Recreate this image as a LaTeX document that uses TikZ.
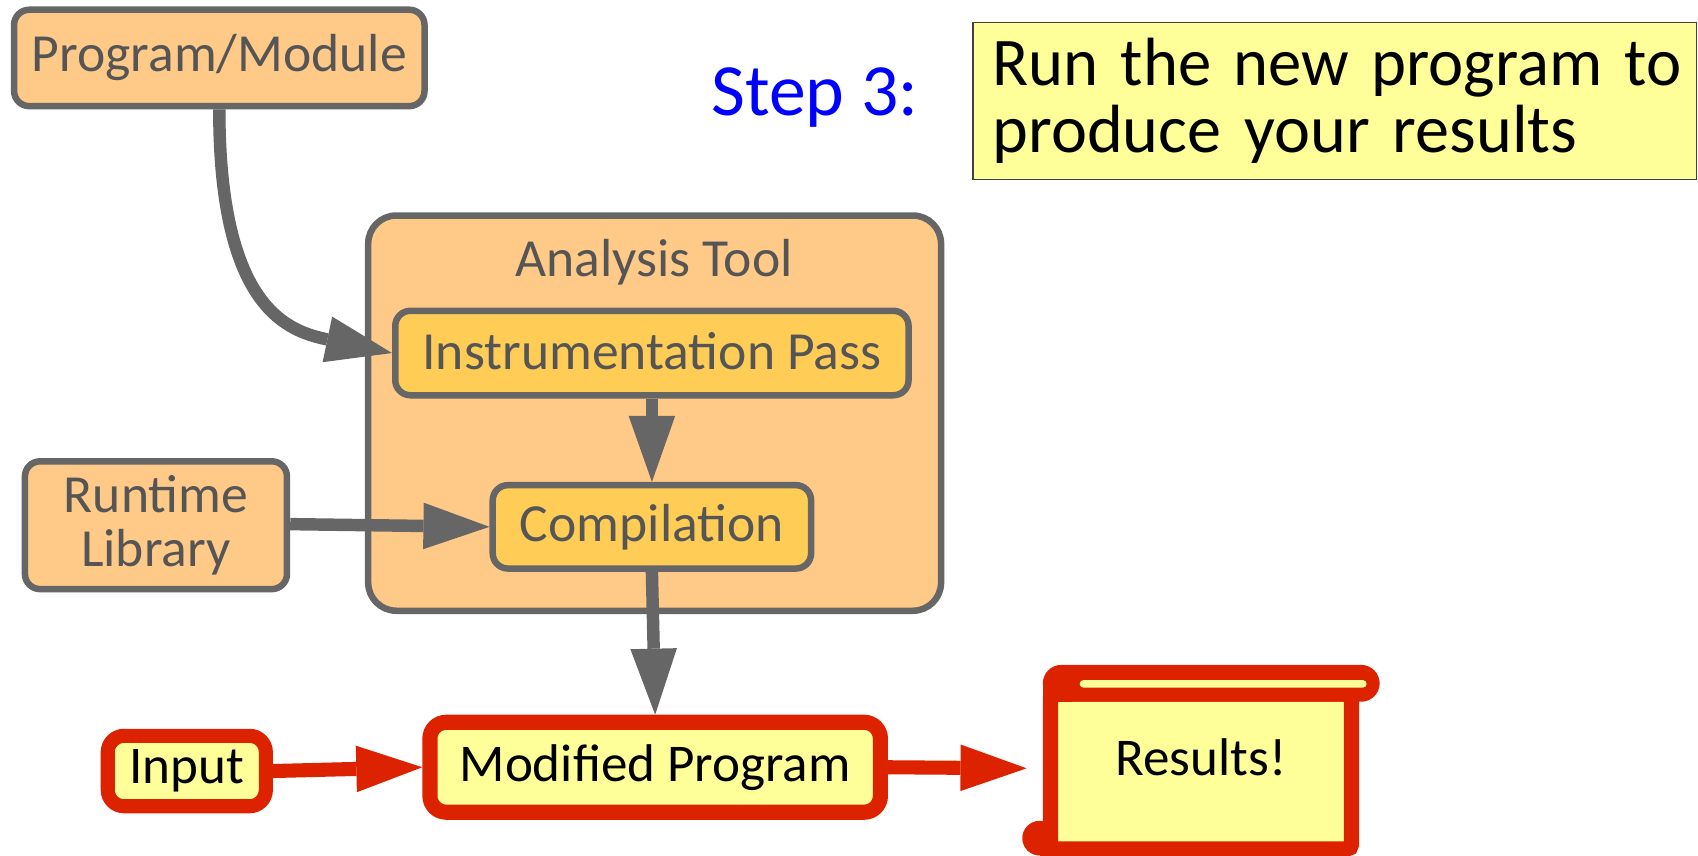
\documentclass[tikz,border=0pt]{standalone}
\usepackage{fontspec}
\setmainfont{Carlito}
\usetikzlibrary{arrows.meta}
\definecolor{gline}{HTML}{666666}
\definecolor{gtext}{HTML}{555555}
\definecolor{ofill}{HTML}{FFCA88}
\definecolor{gold}{HTML}{FFCD55}
\definecolor{lyel}{HTML}{FFFF99}
\definecolor{rline}{HTML}{DD2200}
\definecolor{sblue}{HTML}{0000FF}
\begin{document}
\begin{tikzpicture}[x=1pt,y=-1pt,
  gfont/.style={font=\fontsize{49.5}{50}\selectfont},
  graybox/.style={draw=gline, line width=6pt, rounded corners=14pt, fill=ofill, text=gtext, gfont, inner sep=0pt},
  goldbox/.style={graybox, fill=gold},
  redbox/.style={draw=rline, rounded corners=15pt, fill=lyel, text=black, font=\fontsize{49}{50}\selectfont, inner sep=0pt},
  garrow/.style={draw=gline, line width=11.5pt, -{Triangle[length=61pt,width=43pt,line width=0pt]}},
  rarrow/.style={draw=rline, line width=13pt, -{Triangle[length=61pt,width=43pt,line width=0pt]}},
]
\useasboundingbox (0,0) rectangle (1568,790);

% Analysis tool container
\node[graybox, rounded corners=26pt, minimum width=529, minimum height=365] (at) at (604.5,381.5) {};
\node[text=gtext, gfont, anchor=base, inner sep=0pt] (atl) at (604,255) {Analysis Tool};

\node[graybox, minimum width=379, minimum height=89] (pm) at (202.5,53.5) {Program/Module};
\node[goldbox, minimum width=474, minimum height=78, text height=34pt, text depth=4pt] (ip) at (602,326) {Instrumentation Pass};
\node[goldbox, minimum width=294, minimum height=77] (cp) at (602,486.5) {Compilation};
\node[graybox, align=center, minimum width=242, minimum height=118] (rt) at (144,485) {Runtime\\Library};
\node[redbox, line width=13pt, minimum width=146, minimum height=65] (in) at (172.5,712) {Input};
\node[redbox, line width=14pt, minimum width=416, minimum height=83] (mp) at (605,708.5) {Modified Program};

% Results scroll
\node[draw=rline, line width=14pt, fill=lyel, rounded corners=4pt, minimum width=278, minimum height=143, inner sep=0pt, text height=30pt, text depth=22pt, font=\fontsize{49}{50}\selectfont] (rs) at (1109,712.5) {Results!};
\fill[rline, rounded corners=17pt] (963,614) rectangle (1274,648);
\fill[rline] (963,630) rectangle (990,648);
\fill[lyel, rounded corners=3.5pt] (997,628) rectangle (1262,635);
\fill[rline] (960,774) circle[radius=16];
\fill[rline] (960,774) rectangle (977,790);

% Step text
\node[text=sblue, font=\fontsize{68}{68}\selectfont, anchor=base east, inner sep=0pt] (step) at (848,107) {Step 3:};
\node[draw=black!75, line width=1.2pt, fill=lyel, anchor=north west, minimum width=668, minimum height=145, text width=632, align=left, inner sep=0pt, font=\fontsize{63}{62}\selectfont] (tb) at (898,20) {\scalebox{0.977}[1]{Run the new program to}\\\mbox{produce your results}};

% Connectors
\draw[garrow] (pm.south) .. controls +(0,185) and +(-95,-20) .. (ip.west);
\draw[garrow] (ip.south) -- (cp.north);
\draw[garrow] ([yshift=1pt]rt.east) -- (cp.west);
\draw[garrow] (cp.south) -- (mp.north);
\draw[rarrow] (in.east) -- (mp.west);
\draw[rarrow] (mp.east) -- ([xshift=-15pt,yshift=3pt]rs.west);
\end{tikzpicture}
\end{document}
